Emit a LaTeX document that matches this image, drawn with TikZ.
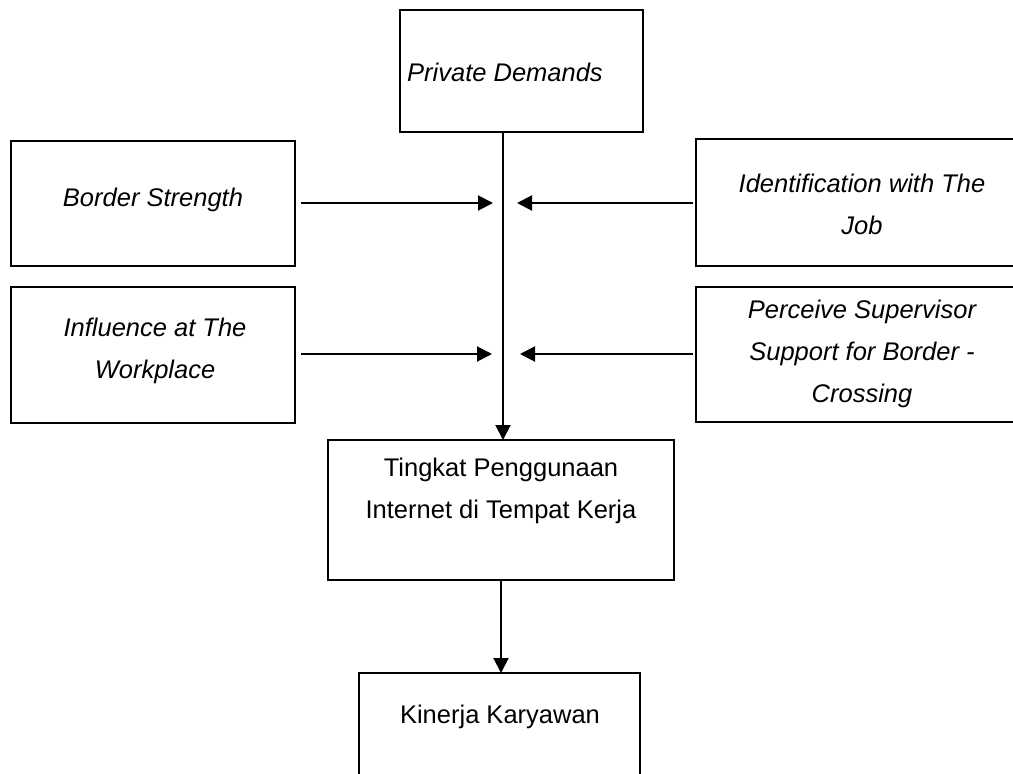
\documentclass[tikz,border=0pt]{standalone}
\usepackage{fontspec}
\setmainfont{Liberation Sans}
\usetikzlibrary{arrows.meta}
\begin{document}
\begin{tikzpicture}[x=1pt,y=-1pt,
  box/.style={draw, line width=1.8pt, inner sep=0pt, outer sep=0pt},
  lbl/.style={font=\fontsize{25.5}{42}\selectfont\itshape, align=center, inner sep=0pt},
  lblu/.style={font=\fontsize{25.5}{42}\selectfont, align=center, inner sep=0pt},
  arr/.style={line width=2pt, -{Triangle[length=15pt,width=15pt]}}]
\useasboundingbox[fill=white] (0,0) rectangle (1013,774);
% boxes
\node[box, minimum width=243pt, minimum height=122pt] (PD) at (521.5,71) {};
\node[box, minimum width=284pt, minimum height=125pt] (BS) at (153,203.5) {};
\node[box, minimum width=334pt, minimum height=127pt] (ID) at (863,202.5) {};
\node[box, minimum width=284pt, minimum height=136pt] (IW) at (153,355) {};
\node[box, minimum width=334pt, minimum height=135pt] (PS) at (863,354.5) {};
\node[box, minimum width=346pt, minimum height=140pt] (TP) at (501,510) {};
\node[box, minimum width=281pt, minimum height=134pt] (KK) at (499.5,740) {};
% texts
\node[lbl] (tPD) at (505,72) {Private Demands};
\node[lbl] (tBS) at (153,200) {Border Strength};
\node[lbl] (tID) at (862,204) {Identification with The\\Job};
\node[lbl] (tIW) at (155,351) {Influence at The\\Workplace};
\node[lbl] (tPS) at (862,354) {Perceive Supervisor\\Support for Border -\\Crossing};
\node[lblu] (tTP) at (501,491) {Tingkat Penggunaan\\Internet di Tempat Kerja};
\node[lblu] (tKK) at (500,717) {Kinerja Karyawan};
% connectors
\coordinate (j) at (503,0);
\coordinate (m1L) at (493,203);
\coordinate (m1R) at (517,203);
\coordinate (m2L) at (492,354);
\coordinate (m2R) at (520,354);
\draw[arr] (PD.south -| j) -- (TP.north -| j);
\draw[arr] ([xshift=6pt]BS.east |- m1L) -- (m1L);
\draw[arr] ([xshift=-3pt]ID.west |- m1R) -- (m1R);
\draw[arr] ([xshift=6pt]IW.east |- m2L) -- (m2L);
\draw[arr] ([xshift=-3pt]PS.west |- m2R) -- (m2R);
\draw[arr] (TP.south) -- (TP.south |- KK.north);
\end{tikzpicture}
\end{document}
